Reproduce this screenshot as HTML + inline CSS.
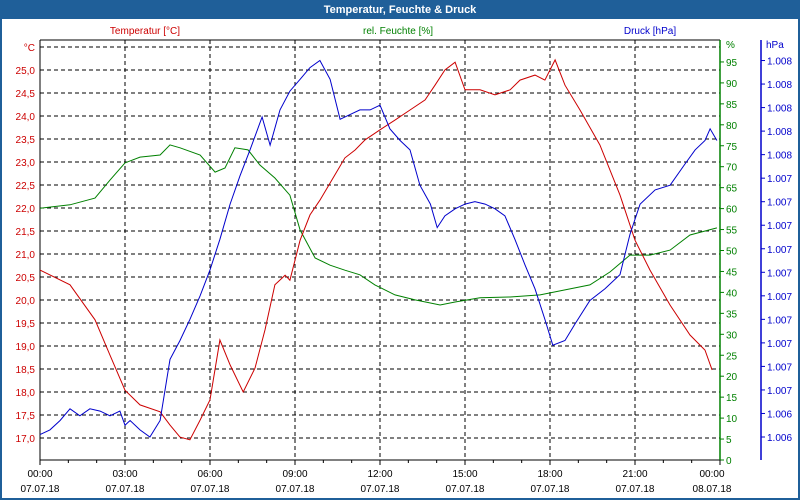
<!DOCTYPE html>
<html><head><meta charset="utf-8"><style>
html,body{margin:0;padding:0;background:#fff}
svg{display:block;font-family:"Liberation Sans","DejaVu Sans",sans-serif}
</style></head><body>
<svg id="chart" width="800" height="500" viewBox="0 0 800 500">
<rect x="0" y="0" width="800" height="500" fill="#fff"/>
<rect x="1" y="1" width="798" height="498" fill="none" stroke="#1f5f99" stroke-width="2"/>
<rect x="0" y="0" width="800" height="19" fill="#1f5f99"/>
<text x="400" y="13" text-anchor="middle" fill="#fff" font-size="11" font-weight="bold">Temperatur, Feuchte &amp; Druck</text>
<text x="145" y="34" text-anchor="middle" fill="#cc0000" font-size="10">Temperatur [°C]</text>
<text x="398" y="34" text-anchor="middle" fill="#008000" font-size="10">rel. Feuchte [%]</text>
<text x="650" y="34" text-anchor="middle" fill="#0000cc" font-size="10">Druck [hPa]</text>
<g id="grid"></g><g id="axes"></g><g id="series"></g>
</svg>
<script>
const hours=[0,1.06,1.94,2.47,3,3.53,4.24,4.59,4.94,5.29,5.65,6,6.35,6.71,7.17,7.59,7.94,8.29,8.65,8.82,9.18,9.53,9.88,10.41,10.76,11.12,11.47,12,12.53,13.06,13.59,13.94,14.29,14.65,15,15.53,16.06,16.59,16.94,17.47,17.82,18.18,18.53,19.06,19.76,20.47,21,21.53,22.24,22.94,23.47,23.72];
const temps=[20.65,20.33,19.57,18.8,18.04,17.72,17.57,17.28,17.02,16.96,17.39,17.83,19.13,18.59,18.0,18.52,19.35,20.33,20.54,20.43,21.3,21.85,22.17,22.72,23.09,23.26,23.48,23.7,23.91,24.13,24.35,24.67,25.0,25.17,24.57,24.57,24.46,24.57,24.78,24.89,24.78,25.22,24.67,24.13,23.37,22.28,21.3,20.65,19.89,19.24,18.91,18.48];
const humHours=[0,1.06,1.94,2.47,3,3.53,4.24,4.59,4.94,5.65,6.18,6.53,6.88,7.34,7.76,8.29,8.82,9.18,9.71,10.24,10.76,11.29,11.82,12.53,13.24,14.12,14.65,15.53,16.59,17.65,18.53,19.41,20.12,20.82,21.53,22.24,22.94,23.89];
const humidity=[60.1,60.9,62.5,66.8,70.9,72.3,72.8,75.2,74.5,72.8,68.7,69.7,74.5,74,70.4,67.3,63.2,54.9,48.2,46.5,45.3,44.2,41.8,39.4,38.2,37,37.7,38.7,38.9,39.4,40.6,41.8,44.9,48.9,48.9,50.1,53.7,55.4];
const presHours=[0,0.35,0.71,1.06,1.41,1.76,2.12,2.47,2.82,3,3.18,3.53,3.88,4.24,4.59,4.94,5.29,5.65,6,6.35,6.71,7.06,7.41,7.84,8.12,8.47,8.82,9.18,9.53,9.88,10.24,10.59,10.94,11.29,11.65,12,12.35,12.71,13.06,13.41,13.78,14.02,14.29,14.65,15,15.35,15.71,16.06,16.41,16.76,17.12,17.47,17.82,18.1,18.53,18.88,19.41,19.94,20.47,20.82,21.18,21.71,22.24,22.76,23.12,23.47,23.65,23.89];
const pressure=[1006.01,1006.03,1006.07,1006.12,1006.09,1006.12,1006.11,1006.09,1006.11,1006.05,1006.07,1006.03,1006.0,1006.07,1006.33,1006.41,1006.5,1006.6,1006.71,1006.84,1006.99,1007.11,1007.22,1007.36,1007.24,1007.39,1007.47,1007.52,1007.57,1007.6,1007.52,1007.35,1007.37,1007.39,1007.39,1007.41,1007.31,1007.26,1007.22,1007.07,1006.99,1006.89,1006.94,1006.97,1006.99,1007.0,1006.99,1006.97,1006.94,1006.84,1006.73,1006.63,1006.5,1006.39,1006.41,1006.48,1006.58,1006.63,1006.69,1006.86,1006.99,1007.05,1007.07,1007.16,1007.22,1007.26,1007.31,1007.26];
const tempTicks=[17.0,17.5,18.0,18.5,19.0,19.5,20.0,20.5,21.0,21.5,22.0,22.5,23.0,23.5,24.0,24.5,25.0];
const humTicks=[0,5,10,15,20,25,30,35,40,45,50,55,60,65,70,75,80,85,90,95];
const presTicks=[1006.0,1006.1,1006.2,1006.3,1006.4,1006.5,1006.6,1006.7,1006.8,1006.9,1007.0,1007.1,1007.2,1007.3,1007.4,1007.5,1007.6];
const presLabels=["1.006","1.006","1.007","1.007","1.007","1.007","1.007","1.007","1.007","1.007","1.007","1.007","1.008","1.008","1.008","1.008","1.008"];
const timeTicks=[0,3,6,9,12,15,18,21,24];
const timeLabels=["00:00","03:00","06:00","09:00","12:00","15:00","18:00","21:00","00:00"];
const dateLabels=["07.07.18","07.07.18","07.07.18","07.07.18","07.07.18","07.07.18","07.07.18","07.07.18","08.07.18"];

const L=40,R=720,T=40,B=460;
const xS=h=>L+(R-L)*h/24;
const yT=t=>70+(25-t)*46;
const yH=p=>460-p*4.19;
const yP=v=>437-(v-1006.0)*235.3;
const NS="http://www.w3.org/2000/svg";
function mk(tag,attrs,parent){const e=document.createElementNS(NS,tag);for(const k in attrs)e.setAttribute(k,attrs[k]);parent.appendChild(e);return e;}
const grid=document.getElementById('grid'),axes=document.getElementById('axes'),series=document.getElementById('series');
// horizontal grid (temperature)
[...tempTicks,25.5].forEach(t=>{const l=mk('line',{x1:L,x2:R,y1:yT(t),y2:yT(t),stroke:'#000','stroke-dasharray':'4,3','stroke-width':1},grid);

});
timeTicks.slice(1,-1).forEach(h=>{const l=mk('line',{x1:xS(h),x2:xS(h),y1:T,y2:B,stroke:'#000','stroke-dasharray':'4,3','stroke-width':1},grid);

});
// frame
let a=mk('line',{x1:L,x2:R,y1:T,y2:T,stroke:'#000'},axes);
a=mk('line',{x1:L,x2:L,y1:T,y2:B,stroke:'#000'},axes);
a=mk('line',{x1:L,x2:R,y1:B,y2:B,stroke:'#000'},axes);
a=mk('line',{x1:R,x2:R,y1:T,y2:B,stroke:'#008000','stroke-width':1.5},axes);
a=mk('line',{x1:761,x2:761,y1:T,y2:B,stroke:'#0000cc','stroke-width':1.5},axes);
// temp labels
tempTicks.forEach(t=>{const e=mk('text',{x:35,y:yT(t)+4,'text-anchor':'end',fill:'#cc0000','font-size':10},axes);e.textContent=t.toFixed(1).replace('.',',');

});
let u=mk('text',{x:35,y:yT(25.5)+4,'text-anchor':'end',fill:'#cc0000','font-size':10},axes);u.textContent='°C';
// humidity
humTicks.forEach(p=>{const tk=mk('line',{x1:R,x2:R+4,y1:yH(p),y2:yH(p),stroke:'#008000'},axes);


const e=mk('text',{x:726,y:yH(p)+4,fill:'#008000','font-size':10},axes);e.textContent=p;

});
u=mk('text',{x:726,y:48,fill:'#008000','font-size':10},axes);u.textContent='%';
// pressure
presTicks.forEach((v,i)=>{const tk=mk('line',{x1:761,x2:765,y1:yP(v),y2:yP(v),stroke:'#0000cc'},axes);


const e=mk('text',{x:767,y:yP(v)+4,fill:'#0000cc','font-size':10},axes);e.textContent=presLabels[i];

});
u=mk('text',{x:766,y:48,fill:'#0000cc','font-size':10},axes);u.textContent='hPa';
// x ticks
for(let h=0;h<=24;h++){const tk=mk('line',{x1:xS(h),x2:xS(h),y1:B,y2:B+(h%3==0?5:3),stroke:'#000'},axes);

}
timeTicks.forEach((h,i)=>{const x=Math.min(xS(h),712);
const e=mk('text',{x:x,y:477,'text-anchor':'middle',fill:'#000','font-size':10},axes);e.textContent=timeLabels[i];


const d=mk('text',{x:x,y:492,'text-anchor':'middle',fill:'#000','font-size':10},axes);d.textContent=dateLabels[i];

});
// series
function line(xs,ys,yf,col,name){const pts=xs.map((h,i)=>xS(h).toFixed(1)+','+yf(ys[i]).toFixed(1)).join(' ');
const p=mk('polyline',{points:pts,fill:'none',stroke:col,'stroke-width':1},series);

}
line(humHours,humidity,yH,'#008000','humidity-line');
line(hours,temps,yT,'#cc0000','temperature-line');
line(presHours,pressure,yP,'#0000cc','pressure-line');
</script>
</body></html>
